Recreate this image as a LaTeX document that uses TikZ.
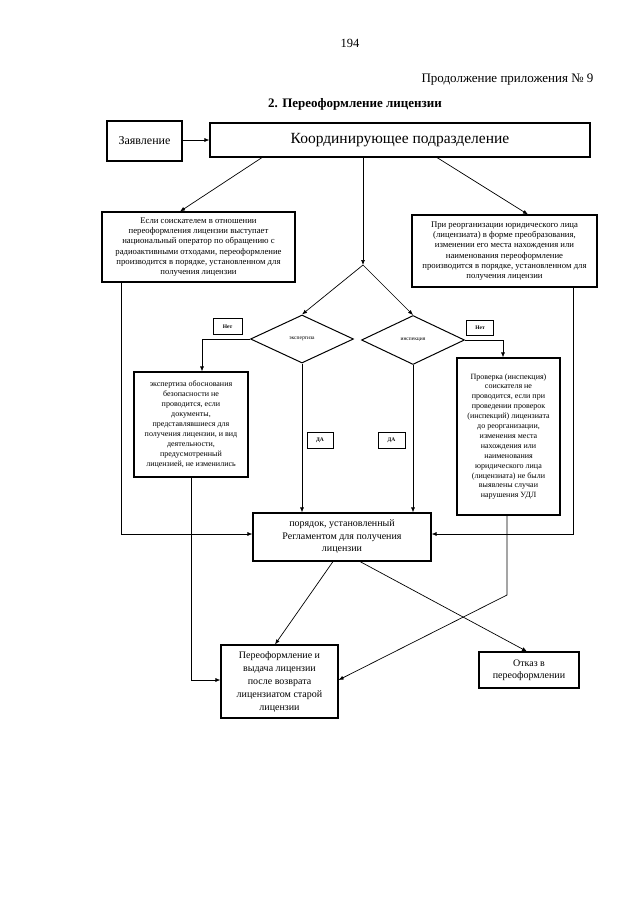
\documentclass[tikz,border=0pt]{standalone}
\usepackage{fontspec}
\setmainfont{Liberation Serif}
\usetikzlibrary{shapes.geometric,arrows.meta}
\begin{document}
\begin{tikzpicture}[x=1pt,y=-1pt,
  box/.style={draw,line width=1.1pt,inner sep=0pt,align=center},
  small/.style={font=\fontsize{8}{9.9}\selectfont},
  smallw/.style={font=\fontsize{8.7}{10.2}\selectfont},
  tiny/.style={font=\fontsize{5.5}{6}\selectfont\bfseries},
  mid/.style={font=\fontsize{10}{12.5}\selectfont},
  dia/.style={draw,line width=1pt,diamond,inner sep=0pt,font=\fontsize{5.5}{6}\selectfont},
  conn/.style={line width=0.7pt},
  arr/.style={conn,-{Latex[length=5pt,width=4pt]}}]
\useasboundingbox[fill=white] (0,0) rectangle (640,905);

\node (pnum) at (350,43) {\fontsize{12.5}{14}\selectfont 194};
\node[anchor=east] (cont) at (597,80) {\fontsize{13}{15}\selectfont Продолжение приложения № 9};
\node (title) at (355,104) {\fontsize{13}{15}\selectfont\bfseries 2. Переоформление лицензии};

\node[box,minimum width=75pt,minimum height=40pt] (zayav) at (144.5,141) {\fontsize{12}{14}\selectfont Заявление};
\node[box,minimum width=380pt,minimum height=34pt] (koord) at (400,140) {\fontsize{15.5}{18}\selectfont Координирующее подразделение};

\node[box,smallw,minimum width=193pt,minimum height=70pt] (boxL) at (198.5,247)
 {Если соискателем в отношении\\переоформления лицензии выступает\\национальный оператор по обращению с\\радиоактивными отходами, переоформление\\производится в порядке, установленном для\\получения лицензии};
\node[box,smallw,minimum width=185pt,minimum height=72pt] (boxR) at (504.5,251)
 {При реорганизации юридического лица\\(лицензиата) в форме преобразования,\\изменении его места нахождения или\\наименования переоформление\\производится в порядке, установленном для\\получения лицензии};

\coordinate (split) at (363,265);

\node[dia,minimum width=103pt,minimum height=48pt] (dE) at (302,339) {экспертиза};
\node[dia,minimum width=103pt,minimum height=49pt] (dI) at (413,340) {инспекция};

\node[box,tiny,line width=0.8pt,minimum width=29pt,minimum height=16pt] (netL) at (227.5,326.5) {Нет};
\node[box,tiny,line width=0.8pt,minimum width=27pt,minimum height=15pt] (netR) at (480,327.5) {Нет};
\node[box,tiny,line width=0.8pt,minimum width=26pt,minimum height=16pt] (daL) at (320,440) {ДА};
\node[box,tiny,line width=0.8pt,minimum width=27pt,minimum height=16pt] (daR) at (391.5,440) {ДА};

\node[box,small,minimum width=114pt,minimum height=105pt] (lowL) at (191,424.5)
 {экспертиза обоснования\\безопасности не\\проводится, если\\документы,\\представлявшиеся для\\получения лицензии, и вид\\деятельности,\\предусмотренный\\лицензией, не изменились};
\node[box,small,minimum width=103pt,minimum height=157pt] (lowR) at (508.5,436.5)
 {Проверка (инспекция)\\соискателя не\\проводится, если при\\проведении проверок\\(инспекций) лицензиата\\до реорганизации,\\изменения места\\нахождения или\\наименования\\юридического лица\\(лицензиата) не были\\выявлены случаи\\нарушения УДЛ};

\node[box,mid,minimum width=178pt,minimum height=48pt] (por) at (342,537)
 {порядок, установленный\\Регламентом для получения\\лицензии};
\node[box,mid,font=\fontsize{10}{13}\selectfont,minimum width=117pt,minimum height=73pt] (pere) at (279.5,681.5)
 {Переоформление и\\выдача лицензии\\после возврата\\лицензиатом старой\\лицензии};
\node[box,mid,minimum width=100pt,minimum height=36pt] (otk) at (529,670)
 {Отказ в\\переоформлении};

% connectors
\draw[arr] (zayav.east |- 0,140) -- (koord.west |- 0,140);
\draw[arr] (koord.south -| 262,0) -- (boxL.north -| 180,0);
\draw[arr] (koord.south -| 437,0) -- (boxR.north -| 528,0);
\draw[arr] (koord.south -| 363,0) -- (split);
\draw[arr] (split) -- (dE.north);
\draw[arr] (split) -- (dI.north);
\draw[arr] (dE.west) -| (lowL.north -| 202,0);
\draw[arr] (dI.east) -| (lowR.north -| 503,0);
\draw[arr] (dE.south) -- (por.north -| dE.south);
\draw[arr] (dI.south) -- (por.north -| dI.south);
\draw[arr] (boxL.south -| 121,0) |- (por.west |- 0,534);
\draw[arr] (boxR.south -| 573,0) |- (por.east |- 0,534);
\draw[arr] (lowL.south) |- (pere.west |- 0,680);
\coordinate (bendR) at (507,595);
\draw[arr] (lowR.south -| bendR) -- (bendR) -- (pere.east |- 0,680);
\draw[arr] (por.south -| 333,0) -- (pere.north -| 275,0);
\draw[arr] (por.south -| 360,0) -- (otk.north -| 527,0);
\end{tikzpicture}
\end{document}
